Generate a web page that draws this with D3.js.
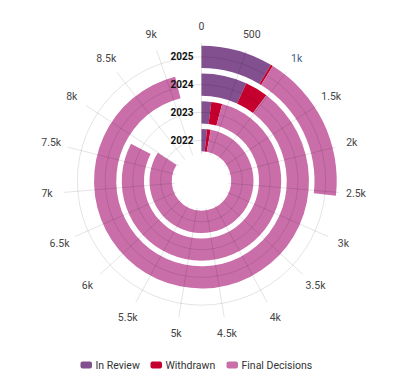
<!DOCTYPE html>
<html><head><meta charset="utf-8">
<script src="https://cdn.jsdelivr.net/npm/d3@7"></script>
<style>body{margin:0;background:#fff;}svg{display:block;font-family:Roboto,"Noto Sans",sans-serif;}</style>
</head><body><svg id="c" width="400" height="383"></svg>
<script>
const years = ["2022","2023","2024","2025"];
const seriesNames = ["In Review","Withdrawn","Final Decisions"];
const inReview = [160, 187, 650, 813];
const withdrawn = [110, 210, 330, 27];
const finalDecisions = [7720, 7463, 8145, 1700];
const colors = ["#83508f","#c5002e","#c96ea9"];
const tickValues = d3.range(0, 9001, 500);
const angleMax = 9500;

const W=400,H=383,cx=201.5,cy=181,r0=27,R=138;
const svg=d3.select("#c");
const g=svg.append("g").attr("transform",`translate(${cx},${cy})`);

const rows=years.map((y,i)=>({year:y,"In Review":inReview[i],"Withdrawn":withdrawn[i],"Final Decisions":finalDecisions[i]}));
const stacked=d3.stack().keys(seriesNames)(rows);
const x=d3.scaleLinear().domain([0,angleMax]).range([0,2*Math.PI]);
const y=d3.scaleBand().domain(years).range([r0,R]).paddingInner(0.2).paddingOuter(0.1);
const color=d3.scaleOrdinal().domain(seriesNames).range(colors);

const arc=d3.arc()
  .innerRadius(d=>y(d.data.year))
  .outerRadius(d=>y(d.data.year)+y.bandwidth())
  .startAngle(d=>x(d[0])).endAngle(d=>x(d[1]));

g.selectAll("g.series").data(stacked).join("g").attr("class","series")
  .attr("fill",d=>color(d.key))
  .selectAll("path").data(d=>d).join("path").attr("d",arc);

// grid on top
const grid=g.append("g").attr("fill","none").attr("stroke","rgba(0,0,0,0.11)").attr("stroke-width",1);
grid.selectAll("circle").data(years).join("circle")
  .attr("r",d=>y(d)+y.bandwidth()/2);
grid.selectAll("line").data(tickValues).join("line")
  .attr("x1",d=>r0*Math.sin(x(d))).attr("y1",d=>-r0*Math.cos(x(d)))
  .attr("x2",d=>R*Math.sin(x(d))).attr("y2",d=>-R*Math.cos(x(d)));

const fmt=v=>v>=1000?(v/1000)+"k":String(v);
g.append("g").selectAll("text").data(tickValues).join("text")
  .attr("x",d=>155*Math.sin(x(d))).attr("y",d=>-155*Math.cos(x(d)))
  .attr("text-anchor","middle").attr("dominant-baseline","central")
  .attr("font-size",10.5).attr("fill",d=>d===1000?"#3e5f86":"#444")
  .text(fmt);

g.append("g").selectAll("text").data(years).join("text")
  .attr("x",-8).attr("y",d=>-(y(d)+y.bandwidth()/2))
  .attr("text-anchor","end").attr("dominant-baseline","central")
  .attr("font-size",10).attr("font-weight","bold").attr("fill","#111")
  .text(d=>d);

// legend
const legX=[80.5,150.5,226.5];
const leg=svg.append("g").selectAll("g").data(seriesNames).join("g")
  .attr("transform",(d,i)=>`translate(${legX[i]},365)`);
leg.append("rect").attr("x",0).attr("y",-3.5).attr("width",11.5).attr("height",7).attr("rx",2)
  .attr("fill",d=>color(d));
leg.append("text").attr("x",15).attr("y",0).attr("dominant-baseline","central")
  .attr("font-size",10.5).attr("fill","#333").text(d=>d);
</script></body></html>
